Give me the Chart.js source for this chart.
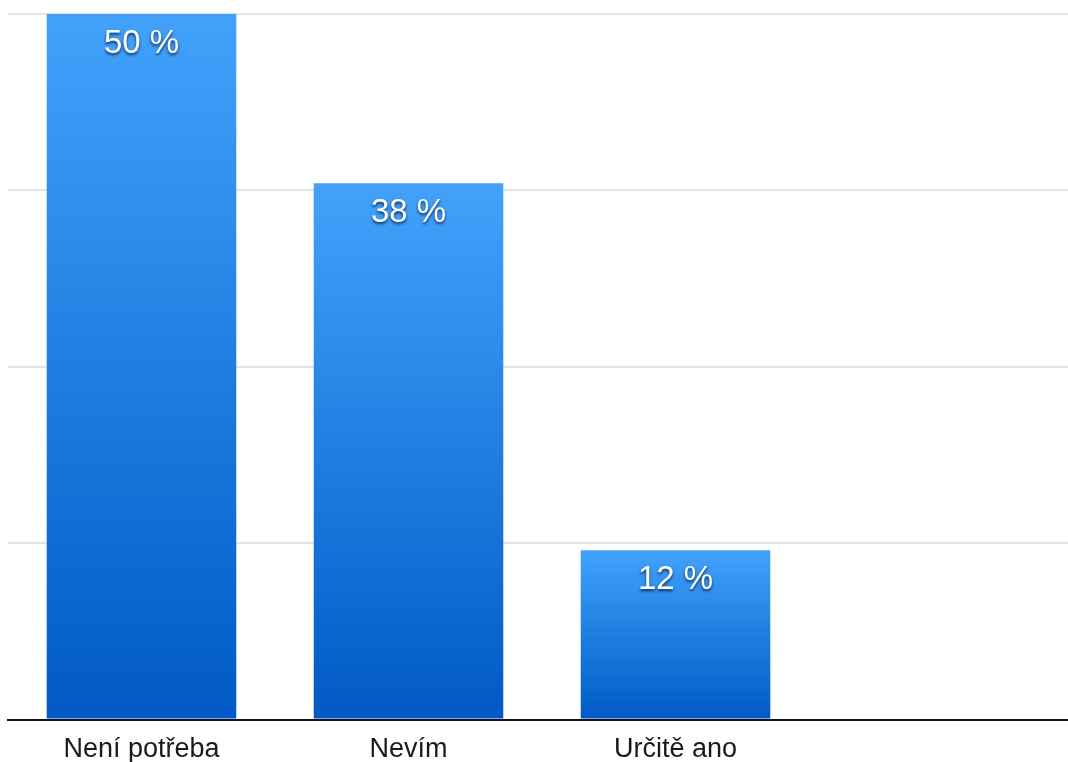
<!DOCTYPE html>
<html>
<head>
<meta charset="utf-8">
<script src="https://cdn.jsdelivr.net/npm/chart.js@4"></script>
<style>
    html, body { margin: 0; padding: 0; background: #fff; overflow: hidden; }
    #wrap { width: 1078px; height: 762px; }
</style>
</head>
<body>
<div id="wrap"><canvas id="chart"></canvas></div>
<script>
"use strict"

// Odpovědi a jejich podíl v procentech (čtvrtý sloupec zůstává prázdný)
const categories = ["Není potřeba", "Nevím", "Určitě ano", ""];
const shares = [50, 38, 12, null];
const yTicks = [0, 12.5, 25, 37.5, 50];

const FONT = "'Liberation Sans', Arial, sans-serif";

// Popisky hodnot přímo v horní části sloupců, bílé se stínem
const valueLabels = {
    id: "valueLabels",
    afterDatasetsDraw(chart) {
        const ctx = chart.ctx;
        const meta = chart.getDatasetMeta(0);
        ctx.save();
        ctx.font = "33px " + FONT;
        ctx.textAlign = "center";
        ctx.textBaseline = "middle";
        ctx.fillStyle = "#ffffff";
        ctx.shadowColor = "rgba(0, 20, 60, 0.8)";
        ctx.shadowBlur = 3;
        ctx.shadowOffsetY = 2;
        meta.data.forEach((bar, i) => {
            if (shares[i] == null) return;
            ctx.fillText(shares[i] + " %", bar.x, bar.y + 30);
        });
        ctx.restore();
    }
};

// Každý sloupec má vlastní přechod od světle modré nahoře po tmavší dole
function barGradient(c) {
    const chart = c.chart;
    const y = chart.scales.y;
    if (!chart.chartArea || !y || c.raw == null) return "#1a7ae0";
    const top = y.getPixelForValue(c.raw);
    const bottom = y.getPixelForValue(0);
    const g = chart.ctx.createLinearGradient(0, top, 0, bottom);
    g.addColorStop(0, "#42a2fb");
    g.addColorStop(1, "#0059c6");
    return g;
}

const ctx = document.getElementById("chart").getContext("2d");

new Chart(ctx, {
    type: "bar",
    data: {
        labels: categories,
        datasets: [{
            data: shares,
            backgroundColor: barGradient,
            borderWidth: 0,
            barPercentage: 0.71,
            categoryPercentage: 1
        }]
    },
    options: {
        responsive: true,
        maintainAspectRatio: false,
        animation: false,
        layout: { padding: { top: 14, left: 8, right: 2, bottom: -18 } },
        plugins: {
            legend: { display: false },
            tooltip: { enabled: false }
        },
        scales: {
            x: {
                grid: { display: false, drawTicks: false },
                border: { color: "#111", width: 2 },
                ticks: {
                    color: "#1a1a1a",
                    padding: 14,
                    font: { family: FONT, size: 27 }
                }
            },
            y: {
                min: 0,
                max: 50,
                afterBuildTicks: (axis) => {
                    axis.ticks = yTicks.map(v => ({ value: v }));
                },
                grid: { color: "#e4e4e4", lineWidth: 2, drawTicks: false },
                border: { display: false },
                ticks: { display: false }
            }
        }
    },
    plugins: [valueLabels]
});
</script>
</body>
</html>
